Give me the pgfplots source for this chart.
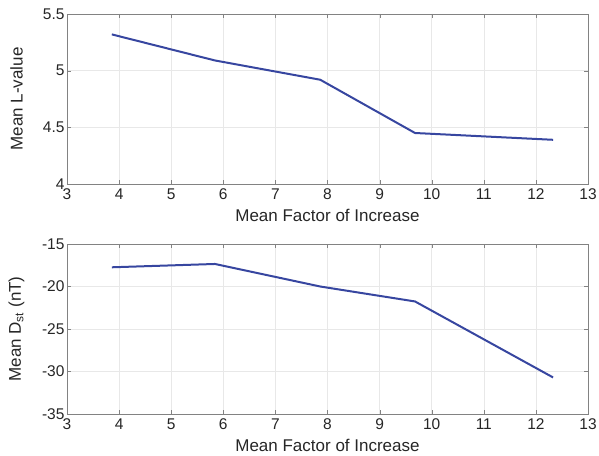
\documentclass[border=0pt]{standalone}
\usepackage{fontspec}
\setmainfont{Liberation Sans}
\usepackage{pgfplots}
\pgfplotsset{compat=1.18}
\definecolor{lineblue}{RGB}{55,70,160}
\definecolor{gridgray}{RGB}{232,232,232}
\definecolor{axgray}{RGB}{130,130,130}
\begin{document}
\begin{tikzpicture}
\useasboundingbox (-67pt,-41pt) rectangle (532pt,414pt);
\pgfplotsset{
  myax/.style={
    scale only axis, width=521pt, height=170pt,
    xmin=3, xmax=13, xtick={3,4,...,13},
    grid=major, major grid style={gridgray, line width=0.6pt},
    axis line style={axgray, line width=0.8pt},
    tick style={axgray}, tick align=inside,
    major tick length=4pt,
    /pgf/number format/assume math mode=true,
    ticklabel style={font=\fontsize{15.5}{17}\selectfont, text=black!85},
    label style={font=\fontsize{17}{19}\selectfont, text=black!85},
    xlabel={Mean Factor of Increase},
    xlabel style={at={(axis description cs:0.5,0)}, anchor=center, yshift=-31pt},
    ylabel style={at={(axis description cs:-0.097,0.5)}, anchor=center, rotate=0},
    xticklabel style={yshift=-1.5pt},
    yticklabel style={xshift=1pt},
  }
}
\begin{axis}[myax, at={(0pt,230pt)}, anchor=south west,
  ymin=4, ymax=5.5, ytick={4,4.5,5,5.5},
  yticklabels={4,4.5,5,5.5},
  ylabel={Mean L-value}]
\addplot[lineblue, line width=2pt] coordinates {
(3.86,5.32) (5.84,5.09) (7.86,4.92) (9.68,4.45) (12.33,4.39)};
\end{axis}
\begin{axis}[myax, at={(0pt,0pt)}, anchor=south west,
  ymin=-35, ymax=-15, ytick={-35,-30,-25,-20,-15},
  yticklabels={-35,-30,-25,-20,-15},
  ylabel={Mean D$_{\mathrm{st}}$ (nT)}]
\addplot[lineblue, line width=2pt] coordinates {
(3.86,-17.74) (5.84,-17.35) (7.86,-20.0) (9.68,-21.76) (12.33,-30.7)};
\end{axis}
\end{tikzpicture}
\end{document}
